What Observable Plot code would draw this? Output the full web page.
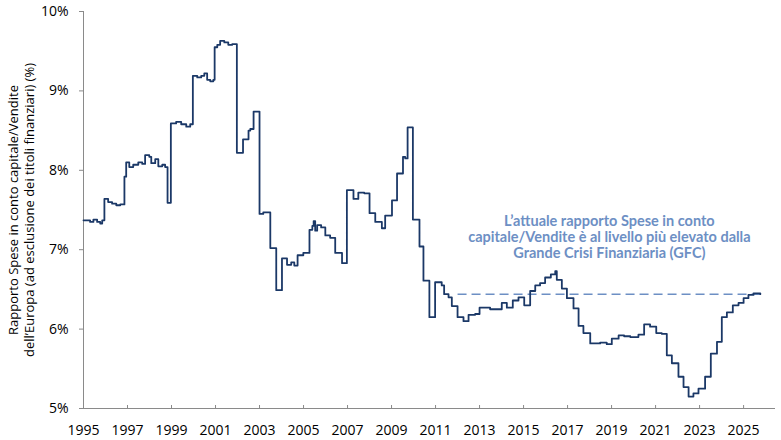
<!DOCTYPE html>
<html>
<head>
<meta charset="utf-8">
<script src="https://cdn.jsdelivr.net/npm/d3@7"></script>
<script src="https://cdn.jsdelivr.net/npm/@observablehq/plot@0.6"></script>
<style>
  html, body { margin: 0; padding: 0; background: #fff; }
  #chart svg { display: block; }
</style>
</head>
<body>
<div id="chart"></div>
<script>
// Capex/Sales ratio, Europe ex-financials (%), step series
const years = [
  1995.0, 1995.3, 1995.45, 1995.62, 1995.76, 1995.85, 1995.95, 1996.12, 1996.3, 1996.49,
  1996.67, 1996.86, 1996.94, 1997.08, 1997.26, 1997.49, 1997.67, 1997.8, 1997.99, 1998.08,
  1998.26, 1998.4, 1998.58, 1998.71, 1998.82, 1998.97, 1999.21, 1999.44, 1999.67, 1999.85,
  1999.97, 2000.17, 2000.35, 2000.49, 2000.62, 2000.76, 2000.9, 2000.96, 2001.08, 2001.21,
  2001.4, 2001.58, 2001.76, 2001.97, 2002.25, 2002.5, 2002.58, 2002.73, 2003.0, 2003.17,
  2003.49, 2003.76, 2004.02, 2004.25, 2004.44, 2004.58, 2004.73, 2004.99, 2005.27, 2005.4,
  2005.46, 2005.53, 2005.62, 2005.8, 2005.99, 2006.21, 2006.44, 2006.75, 2006.97, 2007.27,
  2007.49, 2007.76, 2008.0, 2008.26, 2008.56, 2008.71, 2009.02, 2009.25, 2009.52, 2009.62,
  2009.73, 2009.97, 2010.27, 2010.45, 2010.72, 2010.98, 2011.28, 2011.39, 2011.59, 2011.74,
  2012.0, 2012.27, 2012.5, 2012.8, 2013.0, 2013.25, 2013.48, 2014.01, 2014.24, 2014.51,
  2014.77, 2015.03, 2015.3, 2015.53, 2015.75, 2015.98, 2016.24, 2016.44, 2016.51, 2016.74,
  2016.97, 2017.27, 2017.5, 2017.72, 2018.03, 2018.48, 2018.78, 2019.01, 2019.32, 2019.57,
  2019.85, 2020.22, 2020.48, 2020.75, 2021.03, 2021.28, 2021.51, 2021.74, 2022.04, 2022.27,
  2022.5, 2022.72, 2022.95, 2023.25, 2023.51, 2023.79, 2024.01, 2024.24, 2024.51, 2024.77,
  2025.0, 2025.22, 2025.45, 2025.76
];
const ratio = [
  7.37, 7.35, 7.38, 7.35, 7.33, 7.37, 7.64, 7.60, 7.58, 7.56,
  7.57, 7.92, 8.10, 8.04, 8.07, 8.10, 8.08, 8.19, 8.17, 8.09,
  8.14, 8.05, 8.07, 8.04, 7.59, 8.59, 8.61, 8.58, 8.55, 8.58,
  9.19, 9.17, 9.19, 9.22, 9.14, 9.12, 9.14, 9.55, 9.58, 9.63,
  9.61, 9.58, 9.59, 8.22, 8.39, 8.50, 8.52, 8.74, 7.45, 7.47,
  7.02, 6.49, 6.89, 6.81, 6.84, 6.80, 6.93, 6.96, 7.25, 7.30,
  7.36, 7.24, 7.31, 7.28, 7.18, 7.15, 6.96, 6.83, 7.75, 7.64,
  7.72, 7.71, 7.46, 7.35, 7.27, 7.43, 7.62, 7.96, 8.17, 8.15,
  8.54, 7.38, 7.04, 6.61, 6.15, 6.59, 6.55, 6.44, 6.40, 6.29,
  6.15, 6.10, 6.18, 6.19, 6.27, 6.27, 6.25, 6.33, 6.27, 6.36,
  6.40, 6.30, 6.48, 6.55, 6.58, 6.65, 6.69, 6.73, 6.62, 6.51,
  6.39, 6.26, 6.04, 5.95, 5.82, 5.83, 5.81, 5.88, 5.92, 5.91,
  5.90, 5.93, 6.06, 6.03, 5.95, 5.94, 5.67, 5.57, 5.40, 5.27,
  5.15, 5.19, 5.25, 5.40, 5.69, 5.84, 6.15, 6.21, 6.30, 6.33,
  6.39, 6.43, 6.45, 6.44
];
// Reference level (current ratio) drawn as a dashed line
const refStart = [2012.0];
const refEnd = [2025.76];
const refLevel = [6.44];
// Tick labels
const xTicks = [1995, 1997, 1999, 2001, 2003, 2005, 2007, 2009, 2011, 2013, 2015, 2017, 2019, 2021, 2023, 2025];
const yTicks = [5, 6, 7, 8, 9, 10];
const yTitleLines = ["Rapporto Spese in conto capitale/Vendite", "dell\u2019Europa (ad esclusione dei titoli finanziari) (%)"];
const annotationText = ["L\u2019attuale rapporto Spese in conto", "capitale/Vendite è al livello più elevato dalla", "Grande Crisi Finanziaria (GFC)"];
const annotationAt = [{x: 2018.9, y: 7.16}];

const series = years.map((t, i) => ({t, v: ratio[i]}));
const ref = refLevel.map((v, i) => ({x1: refStart[i], x2: refEnd[i], v}));

const navy = "#1b3867";
const lightBlue = "#6d8fc4";
const axisGrey = "#8a8a8a";

const chart = Plot.plot({
  width: 781,
  height: 440,
  marginLeft: 83,
  marginRight: 6,
  marginTop: 11,
  marginBottom: 32,
  style: {fontFamily: "'Open Sans', sans-serif", fontSize: "14px", color: "#000", background: "#fff"},
  x: {domain: [1995, 2026.45], label: null},
  y: {domain: [5, 10], label: null},
  marks: [
    Plot.axisX({ticks: xTicks, tickFormat: d => String(d), tickSize: 0, tickPadding: 17, fontSize: 14, label: null}),
    Plot.tickX(xTicks, {x: d => d, stroke: axisGrey, strokeWidth: 1, insetTop: 394}),
    Plot.axisY({ticks: yTicks, tickFormat: d => d + "%", tickSize: 4, tickPadding: 11, stroke: axisGrey, fontSize: 14, label: null}),
    Plot.ruleX([1995], {stroke: axisGrey, strokeWidth: 1}),
    Plot.ruleY([5], {stroke: axisGrey, strokeWidth: 1}),
    Plot.link(ref, {x1: "x1", x2: "x2", y1: "v", y2: "v", stroke: lightBlue, strokeWidth: 1.5, strokeDasharray: "9,5"}),
    Plot.line(series, {x: "t", y: "v", curve: "step-after", stroke: navy, strokeWidth: 1.8}),
    Plot.text(annotationAt, {x: "x", y: "y", text: () => annotationText.join("\n"), lineHeight: 1.12, fontFamily: "Lato, sans-serif", fontWeight: "bold", fontSize: 14.5, fill: lightBlue, textAnchor: "middle"}),
    Plot.text([yTitleLines[0]], {frameAnchor: "left", rotate: -90, dx: -70, fontSize: 13, fill: "#000", textAnchor: "middle"}),
    Plot.text([yTitleLines[1]], {frameAnchor: "left", rotate: -90, dx: -54, fontSize: 13, fill: "#000", textAnchor: "middle"})
  ]
});
document.getElementById("chart").appendChild(chart);
</script>
</body>
</html>
